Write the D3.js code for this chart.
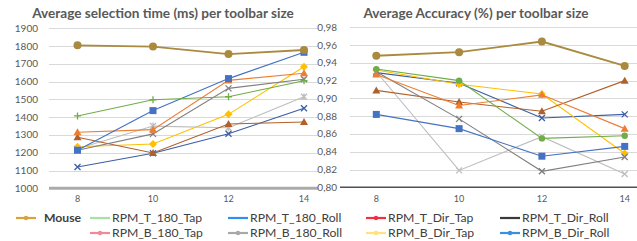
<!DOCTYPE html>
<html>
<head>
<meta charset="utf-8">
<script src="https://cdn.jsdelivr.net/npm/d3@7"></script>
<style>
  html, body { margin: 0; padding: 0; background: #fff; }
  svg { display: block; font-family: Lato, "Open Sans", sans-serif; }
</style>
</head>
<body>
<div id="chart"></div>
<script>
// toolbar sizes (x categories)
const sizes = [8, 10, 12, 14]
const seriesNames = ['Mouse', 'RPM_T_180_Tap', 'RPM_T_180_Roll', 'RPM_T_Dir_Tap', 'RPM_T_Dir_Roll',
  'RPM_B_180_Tap', 'RPM_B_180_Roll', 'RPM_B_Dir_Tap', 'RPM_B_Dir_Roll']

// average selection time (ms), one row per series
const timeValues = [
  [1804, 1797, 1755, 1778],
  [1407, 1498, 1515, 1605],
  [1214, 1437, 1617, 1765],
  [1315, 1330, 1607, 1647],
  [1214, 1306, 1562, 1613],
  [1287, 1199, 1362, 1373],
  [1222, 1350, 1341, 1515],
  [1234, 1249, 1416, 1684],
  [1120, 1197, 1307, 1450],
]
// average accuracy, one row per series
const accValues = [
  [0.948, 0.952, 0.964, 0.9365],
  [0.933, 0.920, 0.855, 0.858],
  [0.882, 0.866, 0.835, 0.846],
  [0.927, 0.892, 0.904, 0.866],
  [0.930, 0.877, 0.818, 0.834],
  [0.909, 0.896, 0.8855, 0.920],
  [0.930, 0.819, 0.857, 0.815],
  [0.932, 0.916, 0.905, 0.838],
  [0.929, 0.917, 0.878, 0.882],
]
const timeTicks = [1000, 1100, 1200, 1300, 1400, 1500, 1600, 1700, 1800, 1900]
const accTicks = [0.80, 0.82, 0.84, 0.86, 0.88, 0.90, 0.92, 0.94, 0.96, 0.98]

// styles
const lineColors = ['#A98A3E', '#70AD47', '#4472C4', '#ED7D31', '#7F7F7F', '#B0602A', '#BDBDBD', '#FFC000', '#3B5EA6']
const legendColors = ['#D9A23C', '#A6E3A1', '#2E8FEF', '#F0303F', '#3A3A3A', '#F08A96', '#A8A8A8', '#FFE27A', '#3A8FE0']
const legendDots = [true, false, false, true, false, true, true, true, true]
const timeMarkers = ['circle', 'plus', 'square', 'triangle', 'x', 'triangle', 'star', 'diamond', 'x']
const accMarkers = ['circle', 'circle', 'square', 'triangle', 'x', 'triangle', 'x', 'diamond', 'x']

const width = 637
const height = 241
const svg = d3.select('#chart').append('svg')
  .attr('width', width)
  .attr('height', height)

const drawMarker = (g, type, x, y, color, big) => {
  if (type === 'circle') {
    g.append('circle').attr('cx', x).attr('cy', y).attr('r', big ? 4 : 3.2).attr('fill', color)
  } else if (type === 'square') {
    g.append('rect').attr('x', x - 3.5).attr('y', y - 3.5).attr('width', 7).attr('height', 7).attr('fill', color)
  } else if (type === 'triangle') {
    g.append('path').attr('d', `M${x},${y - 4}L${x + 4},${y + 3}L${x - 4},${y + 3}Z`).attr('fill', color)
  } else if (type === 'diamond') {
    g.append('path').attr('d', `M${x},${y - 4}L${x + 4},${y}L${x},${y + 4}L${x - 4},${y}Z`).attr('fill', color)
  } else {
    let d = ''
    if (type === 'x' || type === 'star') d += `M${x - 3},${y - 3}L${x + 3},${y + 3}M${x - 3},${y + 3}L${x + 3},${y - 3}`
    if (type === 'plus') d += `M${x - 3.5},${y}L${x + 3.5},${y}M${x},${y - 3.5}L${x},${y + 3.5}`
    if (type === 'star') d += `M${x},${y - 3.5}L${x},${y + 3.5}`
    g.append('path').attr('d', d).attr('stroke', color).attr('stroke-width', 1.3).attr('fill', 'none')
  }
}

const drawPanel = (opts) => {
  const {x, y, values, ticks, fmt, title, titleX, markers, gridX0, gridX1, labelX, baseStyle} = opts
  const g = svg.append('g')

  g.append('text')
    .attr('x', titleX)
    .attr('y', 18)
    .attr('text-anchor', 'middle')
    .attr('font-size', 13.6)
    .attr('font-weight', 'bold')
    .attr('fill', '#595959')
    .text(title)

  // gridlines
  g.selectAll('.grid')
    .data(ticks.slice(1))
    .enter()
    .append('line')
    .attr('x1', gridX0)
    .attr('x2', gridX1)
    .attr('y1', d => Math.round(y(d)) + 0.5)
    .attr('y2', d => Math.round(y(d)) + 0.5)
    .attr('stroke', '#D9D9D9')
    .attr('stroke-width', 1)

  // baseline
  g.append('line')
    .attr('x1', baseStyle.x0)
    .attr('x2', gridX1)
    .attr('y1', y(ticks[0]))
    .attr('y2', y(ticks[0]))
    .attr('stroke', baseStyle.color)
    .attr('stroke-width', baseStyle.w)

  // y labels
  g.selectAll('.ylab')
    .data(ticks)
    .enter()
    .append('text')
    .attr('x', labelX)
    .attr('y', d => y(d) + 3.5)
    .attr('text-anchor', 'end')
    .attr('font-size', 10)
    .attr('fill', '#595959')
    .text(fmt)

  // x labels
  g.selectAll('.xlab')
    .data(sizes)
    .enter()
    .append('text')
    .attr('x', d => x(d))
    .attr('y', 202)
    .attr('text-anchor', 'middle')
    .attr('font-size', 9)
    .attr('fill', '#595959')
    .text(d => d)

  const line = d3.line()
    .x((d, i) => x(sizes[i]))
    .y(d => y(d))

  // draw from last to first so Mouse sits on top
  for (let s = values.length - 1; s >= 0; s--) {
    const sg = g.append('g')
    sg.append('path')
      .attr('d', line(values[s]))
      .attr('fill', 'none')
      .attr('stroke', lineColors[s])
      .attr('stroke-width', s === 0 ? 1.8 : 1.1)
    values[s].forEach((v, i) => drawMarker(sg, markers[s], x(sizes[i]), y(v), lineColors[s], s === 0))
  }
}

drawPanel({
  x: d3.scalePoint().domain(sizes).range([77.5, 304]),
  y: d3.scaleLinear().domain([1000, 1900]).range([188.3, 28.3]),
  values: timeValues,
  ticks: timeTicks,
  fmt: d => d,
  title: 'Average selection time (ms) per toolbar size',
  titleX: 163,
  markers: timeMarkers,
  gridX0: 49,
  gridX1: 318,
  labelX: 38,
  baseStyle: {x0: 49, color: '#ABABAB', w: 3},
})

drawPanel({
  x: d3.scalePoint().domain(sizes).range([376.3, 624.7]),
  y: d3.scaleLinear().domain([0.80, 0.98]).range([187.3, 27.3]),
  values: accValues,
  ticks: accTicks,
  fmt: d => d3.format('.2f')(d).replace('.', ','),
  title: 'Average Accuracy (%) per toolbar size',
  titleX: 476,
  markers: accMarkers,
  gridX0: 350,
  gridX1: 637,
  labelX: 337,
  baseStyle: {x0: 340, color: '#505050', w: 1.5},
})

// legend
const legendPos = [
  [16, 222], [90, 222], [228, 222], [366, 222], [500, 222],
  [90, 237], [228, 237], [366, 237], [500, 237],
]
const legend = svg.append('g')
seriesNames.forEach((name, i) => {
  const [lx, ly] = legendPos[i]
  const item = legend.append('g').attr('transform', `translate(${lx},${ly})`)
  item.append('line')
    .attr('x1', 0).attr('x2', 20)
    .attr('y1', -4).attr('y2', -4)
    .attr('stroke', legendColors[i])
    .attr('stroke-width', 2.2)
  if (legendDots[i]) {
    item.append('circle').attr('cx', 10).attr('cy', -4).attr('r', 2.2).attr('fill', legendColors[i])
  }
  item.append('text')
    .attr('x', i === 0 ? 28 : 22)
    .attr('y', 0)
    .attr('font-size', 12.2)
    .attr('font-weight', i === 0 ? 'bold' : 'normal')
    .attr('fill', '#404040')
    .text(name)
})
</script>
</body>
</html>
